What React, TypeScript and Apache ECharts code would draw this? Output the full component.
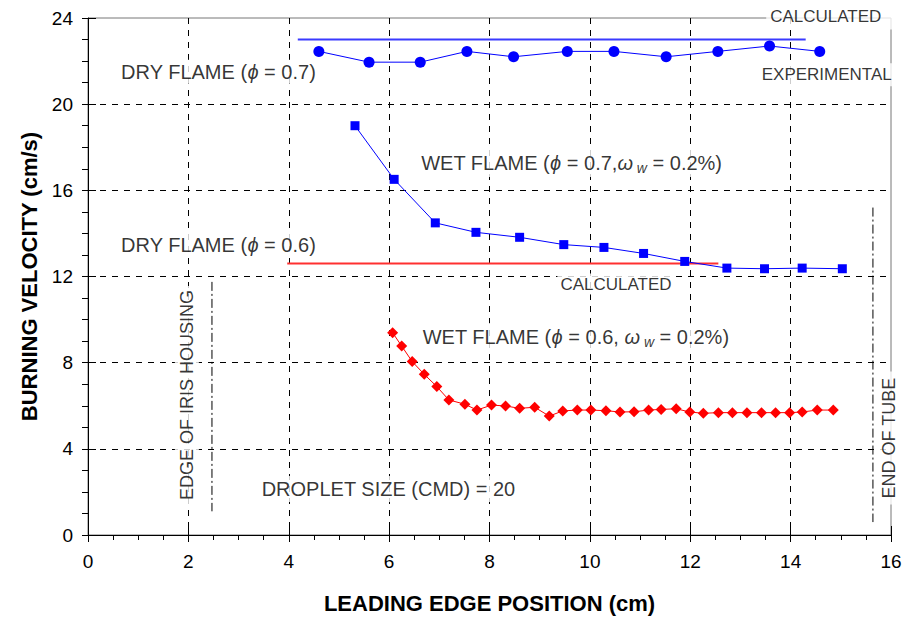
import React, { useEffect, useRef } from "react";
import * as echarts from "echarts";

// ---- data ----
const dry07CalcX = [4.18, 14.3];
const dry07CalcY = [23.0, 23.0];

const dry07ExpX = [4.6, 5.6, 6.62, 7.55, 8.48, 9.55, 10.48, 11.52, 12.55, 13.58, 14.58];
const dry07ExpY = [22.45, 21.95, 21.95, 22.45, 22.2, 22.45, 22.45, 22.2, 22.45, 22.7, 22.45];

const wet07X = [5.32, 6.1, 6.92, 7.73, 8.6, 9.48, 10.28, 11.07, 11.89, 12.73, 13.48, 14.23, 15.03];
const wet07Y = [19.0, 16.51, 14.49, 14.05, 13.82, 13.48, 13.35, 13.07, 12.7, 12.39, 12.36, 12.39, 12.36];

const dry06CalcX = [3.97, 12.56];
const dry06CalcY = [12.6, 12.6];

const wet06X = [6.07, 6.25, 6.46, 6.7, 6.95, 7.19, 7.51, 7.75, 8.04, 8.32, 8.6, 8.9, 9.19, 9.46, 9.75, 10.02, 10.32, 10.6, 10.88, 11.17, 11.42, 11.72, 11.99, 12.26, 12.56, 12.84, 13.13, 13.42, 13.7, 13.98, 14.23, 14.53, 14.85];
const wet06Y = [9.39, 8.77, 8.05, 7.46, 6.89, 6.27, 6.07, 5.8, 6.03, 5.99, 5.88, 5.93, 5.52, 5.76, 5.8, 5.8, 5.77, 5.71, 5.72, 5.8, 5.83, 5.86, 5.71, 5.65, 5.68, 5.68, 5.68, 5.68, 5.68, 5.68, 5.71, 5.8, 5.8];

const irisX = [2.47, 2.47];
const irisY = [11.75, 1.1];
const tubeX = [15.64, 15.64];
const tubeY = [15.2, 0.6];

const xTicks = { min: 0, max: 16, interval: 2 };
const yTicks = { min: 0, max: 24, interval: 4 };

const xTitle = "LEADING EDGE POSITION (cm)";
const yTitle = "BURNING VELOCITY (cm/s)";

const zip = (xs: number[], ys: number[]) => xs.map((x, i) => [x, ys[i]]);

const FONT = "'Liberation Sans', Arial, sans-serif";

export default function App() {
  const ref = useRef<HTMLDivElement>(null);
  useEffect(() => {
    if (!ref.current) return;
    const chart = echarts.init(ref.current, null, { renderer: "svg" });

    const rich = {
      n: { fontSize: 20, fontFamily: FONT, color: "#000" },
      i: { fontSize: 20, fontFamily: FONT, fontStyle: "italic", color: "#000" },
      s: { fontSize: 14, fontFamily: FONT, fontStyle: "italic", color: "#000", padding: [10, 0, 0, 0] },
    };
    const bg = { backgroundColor: "#fff" };

    const annotations: any[] = [
      {
        value: [14.82, 24.05],
        label: { show: true, position: "inside", formatter: "CALCULATED", fontSize: 17, padding: [3, 16, 5, 4], ...bg },
      },
      {
        value: [14.72, 21.36],
        label: { show: true, position: "inside", formatter: "EXPERIMENTAL", fontSize: 17, padding: [3, 4, 3, 4], ...bg },
      },
      {
        value: [0.62, 21.5],
        label: { show: true, position: "right", distance: 0, formatter: "{n|DRY FLAME (}{i|ϕ}{n| = 0.7)}", rich, padding: [2, 2], ...bg },
      },
      {
        value: [6.6, 17.27],
        label: { show: true, position: "right", distance: 0, formatter: "{n|WET FLAME (}{i|ϕ}{n| = 0.7,}{i|ω}{s| w}{n| = 0.2%)}", rich, padding: [2, 2], ...bg },
      },
      {
        value: [0.62, 13.46],
        label: { show: true, position: "right", distance: 0, formatter: "{n|DRY FLAME (}{i|ϕ}{n| = 0.6)}", rich, padding: [2, 2], ...bg },
      },
      {
        value: [10.52, 11.65],
        label: { show: true, position: "inside", formatter: "CALCULATED", fontSize: 17, padding: [2, 3], ...bg },
      },
      {
        value: [6.63, 9.19],
        label: { show: true, position: "right", distance: 0, formatter: "{n|WET FLAME (}{i|ϕ}{n| = 0.6, }{i|ω}{s| w}{n| = 0.2%)}", rich, padding: [2, 2], ...bg },
      },
      {
        value: [3.42, 2.14],
        label: { show: true, position: "right", distance: 0, formatter: "DROPLET SIZE (CMD) = 20", fontSize: 20, padding: [3, 2], ...bg },
      },
      {
        value: [1.97, 6.5],
        label: { show: true, position: "inside", rotate: 90, formatter: "EDGE OF IRIS HOUSING", fontSize: 18, padding: [3, 4], ...bg },
      },
      {
        value: [15.96, 4.5],
        label: { show: true, position: "inside", rotate: 90, formatter: "END OF TUBE", fontSize: 18, padding: [3, 6], ...bg },
      },
    ];

    const axisCommon = {
      type: "value",
      axisLine: { show: true, onZero: false, lineStyle: { color: "#000", width: 1 } },
      axisLabel: { color: "#000", fontSize: 19, fontFamily: FONT },
      splitLine: {
        show: true,
        showMinLine: false,
        showMaxLine: false,
        lineStyle: { color: "#000", width: 1, type: [6, 6] },
      },
    };

    chart.setOption({
      animation: false,
      backgroundColor: "#fff",
      textStyle: { fontFamily: FONT },
      grid: { left: 88, right: 14, top: 18, bottom: 84, show: true, borderColor: "#777", borderWidth: 1, backgroundColor: "transparent" },
      xAxis: [
        {
          ...axisCommon,
          ...xTicks,
          position: "bottom",
          axisTick: { show: true, length: 7, lineStyle: { color: "#000" } },
          minorTick: { show: true, splitNumber: 4, length: 5, lineStyle: { color: "#000" } },
          axisLabel: { ...axisCommon.axisLabel, margin: 17 },
          name: xTitle,
          nameLocation: "middle",
          nameGap: 57,
          nameTextStyle: { fontSize: 22, fontWeight: "bold", color: "#000", fontFamily: FONT },
        },
        {
          type: "value",
          ...xTicks,
          position: "bottom",
          offset: 0,
          axisLine: { show: false },
          axisTick: { show: true, inside: true, length: 9, lineStyle: { color: "#000" } },
          axisLabel: { show: false },
          splitLine: { show: false },
        },
      ],
      yAxis: [
        {
          ...axisCommon,
          ...yTicks,
          position: "left",
          axisTick: { show: true, length: 6, lineStyle: { color: "#000" } },
          minorTick: { show: true, splitNumber: 4, length: 6, lineStyle: { color: "#000" } },
          axisLabel: { ...axisCommon.axisLabel, margin: 15 },
          name: yTitle,
          nameLocation: "middle",
          nameGap: 46,
          nameTextStyle: { fontSize: 22, fontWeight: "bold", color: "#000", fontFamily: FONT },
        },
        {
          type: "value",
          ...yTicks,
          position: "left",
          offset: 0,
          axisLine: { show: false },
          axisTick: { show: true, inside: true, length: 8, lineStyle: { color: "#000" } },
          axisLabel: { show: false },
          splitLine: { show: false },
        },
      ],
      series: [
        {
          name: "dry07calc",
          type: "line",
          data: zip(dry07CalcX, dry07CalcY),
          symbol: "none",
          lineStyle: { color: "#3a3aff", width: 2 },
          z: 3,
        },
        {
          name: "dry07exp",
          type: "line",
          data: zip(dry07ExpX, dry07ExpY),
          symbol: "circle",
          symbolSize: 11,
          itemStyle: { color: "#0000ff" },
          lineStyle: { color: "#0000ff", width: 1 },
          z: 4,
        },
        {
          name: "wet07",
          type: "line",
          data: zip(wet07X, wet07Y),
          symbol: "rect",
          symbolSize: 9,
          itemStyle: { color: "#0000ff" },
          lineStyle: { color: "#0000ff", width: 1 },
          z: 4,
        },
        {
          name: "dry06calc",
          type: "line",
          data: zip(dry06CalcX, dry06CalcY),
          symbol: "none",
          lineStyle: { color: "#ff3030", width: 2 },
          z: 3,
        },
        {
          name: "wet06",
          type: "line",
          data: zip(wet06X, wet06Y),
          symbol: "diamond",
          symbolSize: 11,
          itemStyle: { color: "#ff0000" },
          lineStyle: { color: "#ff0000", width: 1 },
          z: 4,
        },
        {
          name: "iris",
          type: "line",
          data: zip(irisX, irisY),
          symbol: "none",
          lineStyle: { color: "#000", width: 1, type: [9, 3, 2, 3] },
          z: 3,
        },
        {
          name: "tube",
          type: "line",
          data: zip(tubeX, tubeY),
          symbol: "none",
          lineStyle: { color: "#000", width: 1, type: [9, 3, 2, 3] },
          z: 3,
        },
        {
          name: "annotations",
          type: "scatter",
          symbolSize: 0,
          clip: false,
          data: annotations,
          label: { color: "#000", fontFamily: FONT },
          silent: true,
          z: 5,
        },
      ],
    });
    return () => chart.dispose();
  }, []);
  return <div ref={ref} style={{ position: "absolute", left: 0, top: 0, width: 905, height: 619 }} />;
}
